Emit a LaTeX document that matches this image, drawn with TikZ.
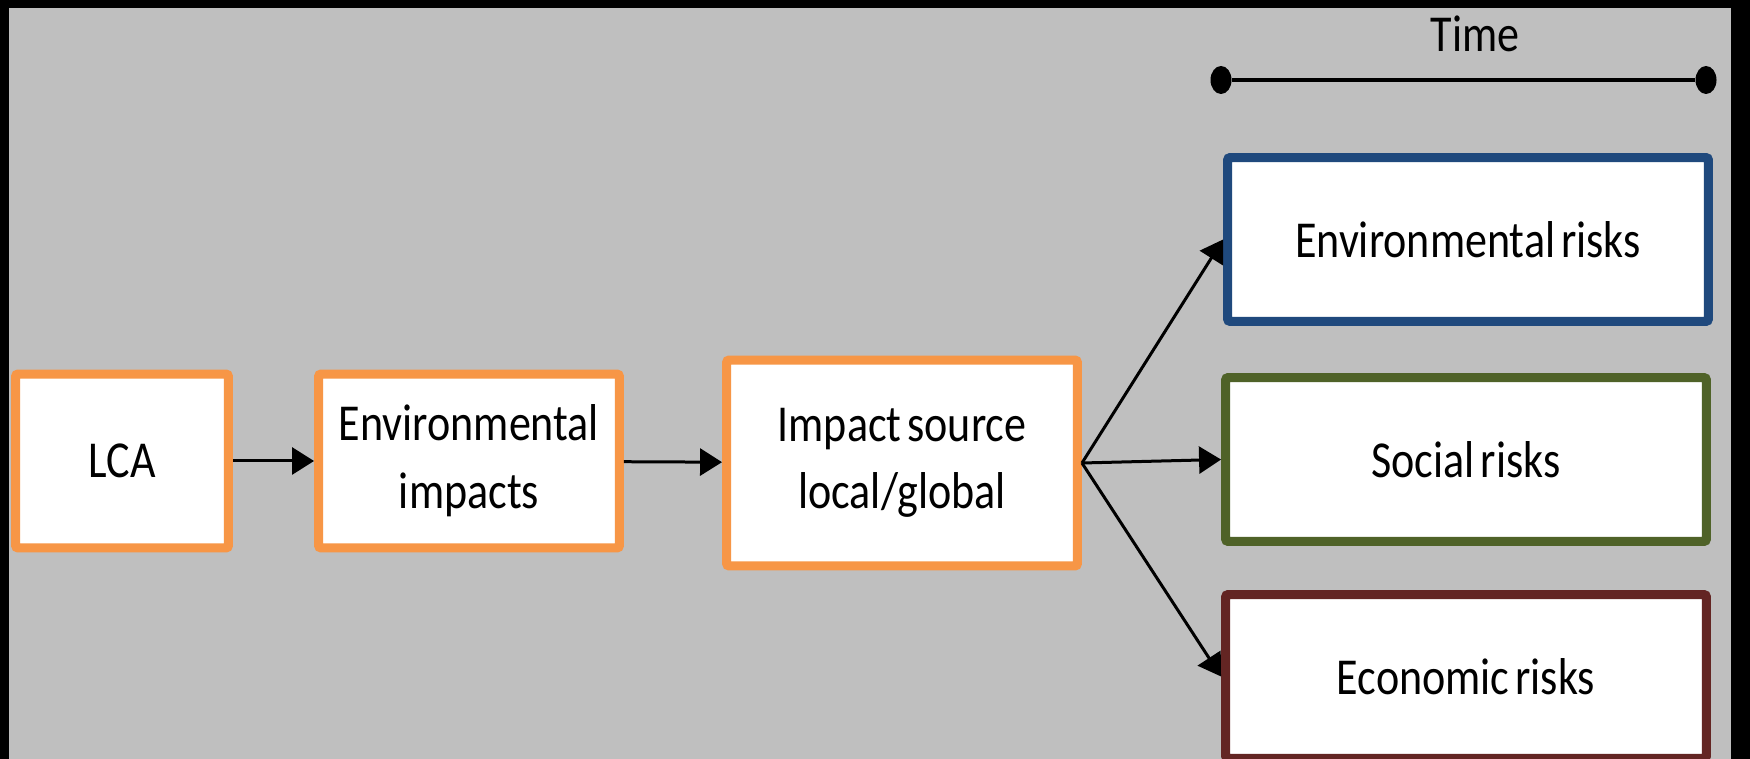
\documentclass[tikz,border=0pt]{standalone}
\usepackage{fontspec}
\setmainfont{Carlito}[FakeStretch=0.85,WordSpace=0.6]
\usetikzlibrary{arrows.meta,shapes.geometric}
\definecolor{bggrey}{HTML}{BFBFBF}
\definecolor{stageorange}{HTML}{F79646}
\definecolor{envblue}{HTML}{1F497D}
\definecolor{socgreen}{HTML}{4F6228}
\definecolor{ecored}{HTML}{632523}

\begin{document}
\begin{tikzpicture}[x=0.02cm,y=-0.02cm,every text node part/.style={align=center},
box/.style={draw,fill=white,line width=0.18cm,rounded corners=1.5pt,inner sep=0pt,font=\fontsize{29.5}{38.5}\selectfont},
stage/.style={box,draw=stageorange,minimum height=3.48cm},
risk/.style={box,minimum width=9.62cm,minimum height=3.28cm},
link/.style={line width=0.06cm,-{Triangle[length=0.44cm,width=0.54cm]}},
dot/.style={ellipse,fill=black,inner sep=0pt,minimum width=0.42cm,minimum height=0.56cm}]
\useasboundingbox (0,0) rectangle (1750,759);
\clip (0,0) rectangle (1750,759);
\fill[black] (0,0) rectangle (1750,759);
\fill[bggrey] (9,8) rectangle (1731,759);
% time axis
\node [anchor=base,font=\fontsize{29.5}{38.5}\selectfont] (timelabel) at (1475,52) {Time};
\node [dot] (tstart) at (1221,80) {};
\node [dot] (tend) at (1706,80) {};
\draw [line width=0.08cm] (tstart) -- (tend);
% chain
\node [stage,minimum width=4.26cm] (lca) at (122,461) {LCA};
\node [stage,minimum width=6.02cm] (envimp) at (469,461) {Environmental\\impacts};
\node [stage,minimum width=7.02cm,minimum height=4.12cm] (source) at (902,463) {Impact source\\local/global};
% risks
\node [risk,draw=envblue] (envrisk) at (1468,239.5) {Environmental risks};
\node [risk,draw=socgreen] (socrisk) at (1466,459.5) {Social risks};
\node [risk,draw=ecored] (ecorisk) at (1466,676.5) {Economic risks};
\draw [link] (lca) -- (envimp);
\draw [link] (envimp) -- (source);
\draw [link] (source.east) -- (envrisk.west);
\draw [link] (source.east) -- (socrisk.west);
\draw [link] (source.east) -- (ecorisk.west);
\end{tikzpicture}
\end{document}
